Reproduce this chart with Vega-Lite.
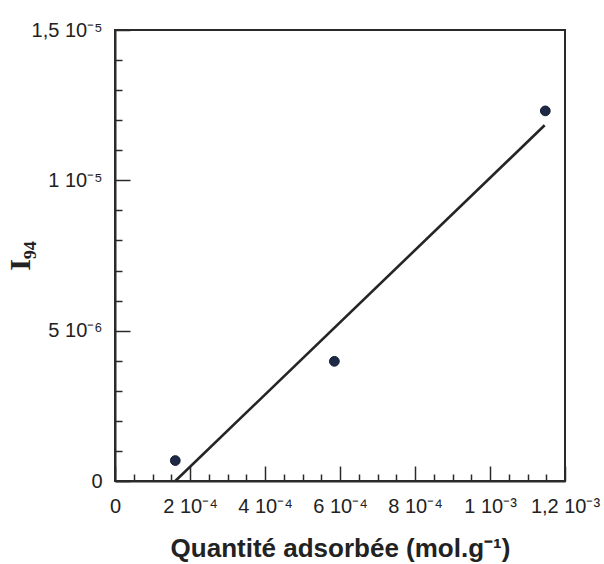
{
  "$schema": "https://vega.github.io/schema/vega-lite/v6.json",
  "autosize": {"type": "none"},
  "width": 450,
  "height": 451,
  "padding": {"left": 115, "top": 30, "right": 39, "bottom": 83},
  "background": "#ffffff",
  "config": {
    "view": {"stroke": "#2a2a2a", "strokeWidth": 2},
    "font": "Liberation Sans",
    "axis": {"grid": false, "domainColor": "#2a2a2a", "domainWidth": 2, "tickColor": "#2a2a2a", "tickWidth": 1.5, "labelColor": "#222", "titleColor": "#222", "labelFont": "Liberation Sans", "labelFontSize": 20}
  },
  "datasets": {
    "mesures": [
      {"quantite": 0.0001608, "I94": 0.00000068},
      {"quantite": 0.000585, "I94": 0.00000398},
      {"quantite": 0.0011475, "I94": 0.00001231}
    ],
    "droite": [
      {"quantite": 0.0001608, "I94": 0.0},
      {"quantite": 0.0011457, "I94": 0.00001183}
    ]
  },
  "resolve": {"axis": {"x": "independent", "y": "independent"}},
  "layer": [
    {
      "data": {"name": "droite"},
      "mark": {"type": "line", "color": "#252525", "strokeWidth": 2.6},
      "encoding": {
        "x": {"field": "quantite", "type": "quantitative", "scale": {"domain": [0, 0.0012], "nice": false},
          "axis": {"orient": "bottom", "values": [0.00005, 0.0001, 0.00015, 0.00025, 0.0003, 0.00035, 0.00045, 0.0005, 0.00055, 0.00065, 0.0007, 0.00075, 0.00085, 0.0009, 0.00095, 0.00105, 0.0011, 0.00115], "labels": false, "domain": false, "tickSize": -7, "title": null}},
        "y": {"field": "I94", "type": "quantitative", "scale": {"domain": [0, 0.000015], "nice": false},
          "axis": {"orient": "left", "values": [0.000001, 0.000002, 0.000003, 0.000004, 0.000006, 0.000007, 0.000008, 0.000009, 0.000011, 0.000012, 0.000013, 0.000014], "labels": false, "domain": false, "tickSize": -7, "title": null}}
      }
    },
    {
      "data": {"name": "mesures"},
      "mark": {"type": "circle", "color": "#1e2a45", "opacity": 1, "size": 95, "stroke": "#111a30", "strokeWidth": 1},
      "encoding": {
        "x": {"field": "quantite", "type": "quantitative", "scale": {"domain": [0, 0.0012], "nice": false},
          "axis": {"orient": "bottom", "values": [0, 0.0002, 0.0004, 0.0006, 0.0008, 0.001, 0.0012], "tickSize": -15, "labelPadding": 30, "labelOverlap": false, "labelBound": false, "labelFlush": false,
            "labelExpr": "['0','2 10⁻⁴','4 10⁻⁴','6 10⁻⁴','8 10⁻⁴','1 10⁻³','1,2 10⁻³'][round(datum.value/0.0002)]",
            "title": "Quantité adsorbée (mol.g⁻¹)", "titleFont": "Liberation Sans", "titleFontSize": 26, "titleFontWeight": "bold", "titlePadding": 19}},
        "y": {"field": "I94", "type": "quantitative", "scale": {"domain": [0, 0.000015], "nice": false},
          "axis": {"orient": "left", "values": [0, 0.000005, 0.00001, 0.000015], "tickSize": -15, "labelPadding": 28, "labelOverlap": false, "labelBound": false, "labelFlush": false,
            "labelExpr": "['0','5 10⁻⁶','1 10⁻⁵','1,5 10⁻⁵'][round(datum.value/0.000005)]",
            "title": "I₉₄", "titleFont": "Liberation Serif", "titleFontSize": 30, "titleFontWeight": "bold", "titlePadding": -4}}
      }
    }
  ]
}
